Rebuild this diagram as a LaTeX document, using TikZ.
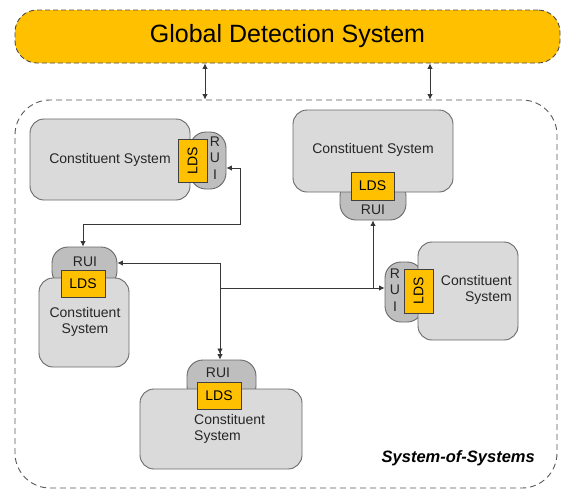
\documentclass[tikz,border=0pt]{standalone}
\usepackage{fontspec}
\setmainfont{Liberation Sans}
\definecolor{GdsOrange}{RGB}{255,192,0}
\definecolor{CsFill}{RGB}{218,218,218}
\definecolor{RuiFill}{RGB}{190,190,190}
\definecolor{EdgeGray}{RGB}{105,105,105}
\definecolor{WireGray}{RGB}{55,55,55}
\usetikzlibrary{arrows.meta,positioning,calc}

\begin{document}
\begin{tikzpicture}[x=1pt,y=-1pt,>={Latex[length=5.5pt,width=5.5pt]},
  csbox/.style={draw=EdgeGray,fill=CsFill,rounded corners=14pt,line width=0.9pt,inner sep=0pt},
  ruibox/.style={draw=EdgeGray,fill=RuiFill,rounded corners=16pt,line width=0.9pt,inner sep=0pt},
  ldsbox/.style={draw=black!75,fill=GdsOrange,line width=0.8pt,inner sep=0pt,font=\fontsize{14}{16}\selectfont},
  lbl/.style={font=\fontsize{14}{16.5}\selectfont,inner sep=0pt,text=black!85},
  wire/.style={draw=WireGray,line width=0.8pt}]
  \useasboundingbox (0,0) rectangle (562,491);

  % outer frames
  \node[draw=black!70,fill=GdsOrange,dashed,dash pattern=on 5pt off 3pt,line width=0.9pt,rounded corners=22pt,
        minimum width=545pt,minimum height=53pt,font=\fontsize{25}{30}\selectfont] (gds) at (287.5,36.5) {Global Detection System};
  \node[draw=black!65,dashed,dash pattern=on 6pt off 4pt,line width=0.9pt,rounded corners=35pt,
        minimum width=542pt,minimum height=388pt] (sos) at (286,294) {};
  \node[font=\fontsize{16.5}{20}\selectfont\bfseries\itshape,inner sep=0pt,anchor=east] (soslbl) at (535,458) {System-of-Systems};

  % constituent systems
  \node[ruibox,minimum width=36pt,minimum height=57pt] (rui1) at (208,160.5) {};
  \node[csbox,minimum width=160pt,minimum height=81pt] (cs1) at (110,159.5) {};
  \node[ldsbox,rotate=90,minimum width=43pt,minimum height=29pt] (lds1) at (192.5,160.5) {LDS};
  \node[lbl] (cs1t) at (110,160) {Constituent System};
  \node[lbl,align=center] (rui1t) at (215,158) {R\\U\\I};

  \node[ruibox,minimum width=65pt,minimum height=40pt] (rui2) at (84.5,267) {};
  \node[csbox,minimum width=90pt,minimum height=89pt] (cs2) at (84,322.5) {};
  \node[ldsbox,minimum width=44pt,minimum height=27pt] (lds2) at (83,283.5) {LDS};
  \node[lbl] (rui2t) at (85,262) {RUI};
  \node[lbl,align=center] (cs2t) at (85,322) {Constituent\\System};

  \node[ruibox,minimum width=66pt,minimum height=40pt] (rui3) at (373,200) {};
  \node[csbox,minimum width=160pt,minimum height=82pt] (cs3) at (373,151) {};
  \node[ldsbox,minimum width=43pt,minimum height=28pt] (lds3) at (372.5,186) {LDS};
  \node[lbl] (cs3t) at (373,150) {Constituent System};
  \node[lbl] (rui3t) at (373,210) {RUI};

  \node[ruibox,minimum width=38pt,minimum height=60pt] (rui4) at (404,292) {};
  \node[csbox,minimum width=100pt,minimum height=98pt] (cs4) at (468,291) {};
  \node[ldsbox,rotate=90,minimum width=44pt,minimum height=29pt] (lds4) at (418.5,291) {LDS};
  \node[lbl,align=right,anchor=east] (cs4t) at (512,290) {Constituent\\System};
  \node[lbl,align=center] (rui4t) at (395,290) {R\\U\\I};

  \node[ruibox,minimum width=69pt,minimum height=42pt] (rui5) at (221.5,381) {};
  \node[csbox,minimum width=162pt,minimum height=80pt] (cs5) at (221,429) {};
  \node[ldsbox,minimum width=44pt,minimum height=27pt] (lds5) at (219,395.5) {LDS};
  \node[lbl] (rui5t) at (218,373) {RUI};
  \node[lbl,align=left,anchor=west] (cs5t) at (194,429) {Constituent\\System};

  % connectors
  \coordinate (g1) at (205,80);
  \coordinate (g2) at (430,80);
  \draw[wire,<->] (g1 |- gds.south) -- (g1 |- sos.north);
  \draw[wire,<->] (g2 |- gds.south) -- (g2 |- sos.north);

  \coordinate (j1) at (240,168);
  \coordinate (j2) at (83,224);
  \coordinate (j3) at (220,263);
  \coordinate (j4) at (220,288);
  \coordinate (j5) at (373,288);
  \draw[wire,<->] (rui1.east |- j1) -- (j1) |- (j2) -- (j2 |- rui2.north);
  \draw[wire,<->>] (rui2.east |- j3) -- (j3) -- (j3 |- rui5.north);
  \draw[wire,->] (j4) -- (rui4.west |- j4);
  \draw[wire,->] (j5) -- (j5 |- rui3.south);
\end{tikzpicture}
\end{document}
